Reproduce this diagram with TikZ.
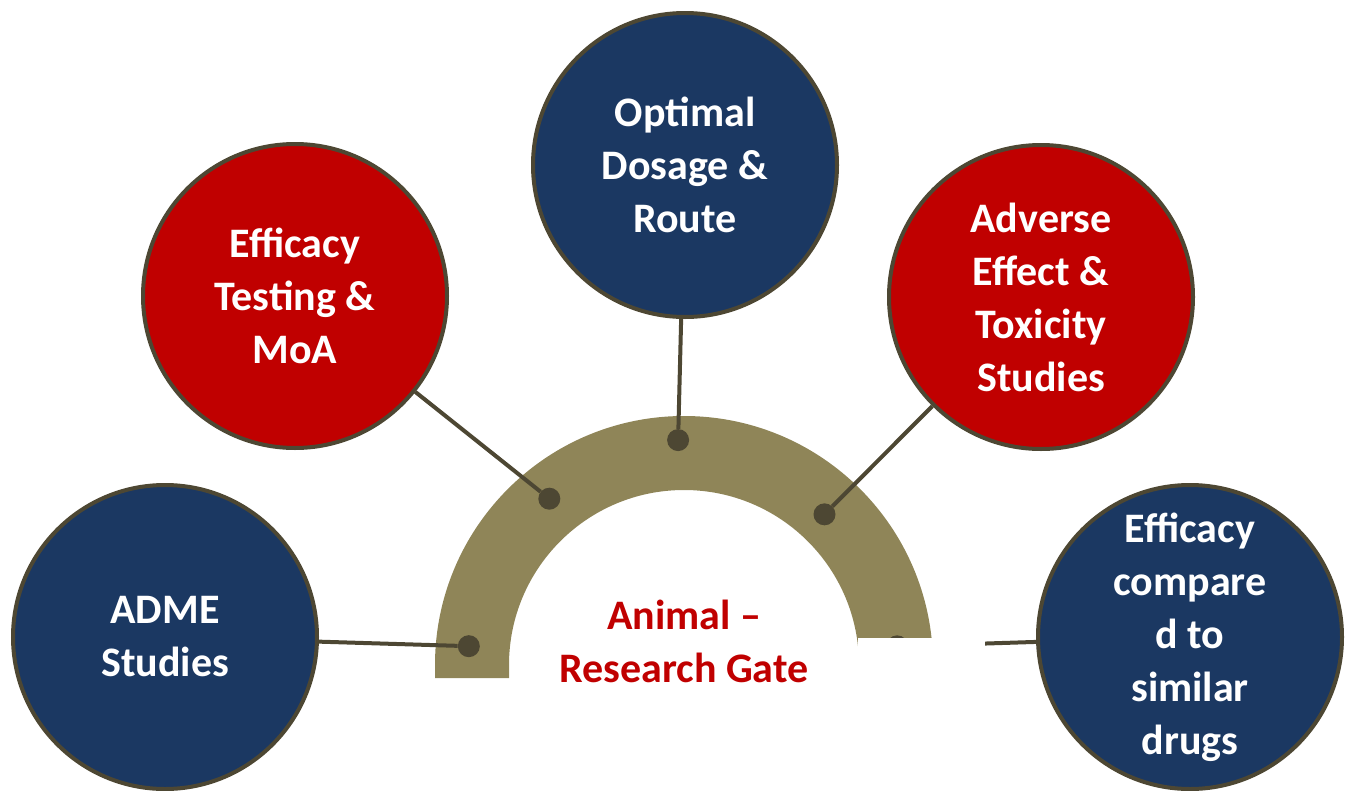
\documentclass[tikz,border=0pt]{standalone}
\usepackage{fontspec}
\setmainfont{Carlito}
\definecolor{navyfill}{HTML}{1B3862}
\definecolor{redfill}{HTML}{C00000}
\definecolor{rimline}{HTML}{4D4733}
\definecolor{gatehue}{HTML}{8F8558}
\definecolor{gatetext}{HTML}{C00000}
\tikzset{
  topic/.style={circle, draw=rimline, line width=4pt, minimum size=304pt,
    inner sep=0pt, text=white, align=center,
    font=\fontsize{42}{53}\selectfont\bfseries},
  navytopic/.style={topic, fill=navyfill},
  redtopic/.style={topic, fill=redfill},
  pin/.style={circle, fill=rimline, minimum size=22pt, inner sep=0pt},
  link/.style={draw=rimline, line width=4pt}
}
\begin{document}
\begin{tikzpicture}[x=1pt,y=-1pt]
  \useasboundingbox (0,0) rectangle (1347,790);
  \coordinate (gate) at (684,665);
  % the gate arc
  \fill[gatehue] (435,678) -- ([shift={(180:249pt)}]gate)
    arc[start angle=180, end angle=0, radius=249pt] -- (933,678) -- (859,678)
    -- ([shift={(0:175pt)}]gate)
    arc[start angle=0, end angle=180, radius=175pt] -- (509,678) -- cycle;
  \node[navytopic] (adme) at (165,637) {ADME\\Studies};
  \node[redtopic] (efficacy) at (295,296) {Efficacy\\Testing \&\\MoA};
  \node[navytopic] (optimal) at (685,165) {Optimal\\Dosage \&\\Route};
  \node[redtopic] (adverse) at (1041,297) {Adverse\\Effect \&\\Toxicity\\Studies};
  \node[navytopic] (compared) at (1190,637) {Efficacy\\compare\\d to\\similar\\drugs};
  \node[pin] (pa) at ([shift={(175:216pt)}]gate) {};
  \node[pin] (pe) at ([shift={(129:214pt)}]gate) {};
  \node[pin] (po) at ([shift={(91.5:225pt)}]gate) {};
  \node[pin] (pv) at ([shift={(47:206pt)}]gate) {};
  \node[pin] (pc) at ([shift={(5:214pt)}]gate) {};
  \draw[link] (adme) -- (pa);
  \draw[link] (efficacy) -- (pe);
  \draw[link] (optimal) -- (po);
  \draw[link] (adverse) -- (pv);
  \draw[link] (pc) -- (compared);
  % white patch over the right foot
  \fill[white] (858,638) rectangle (985,700);
  \node[text=gatetext, align=center, font=\fontsize{42}{53}\selectfont\bfseries]
    (gatelabel) at (684,641) {Animal --\\Research Gate};
\end{tikzpicture}
\end{document}
